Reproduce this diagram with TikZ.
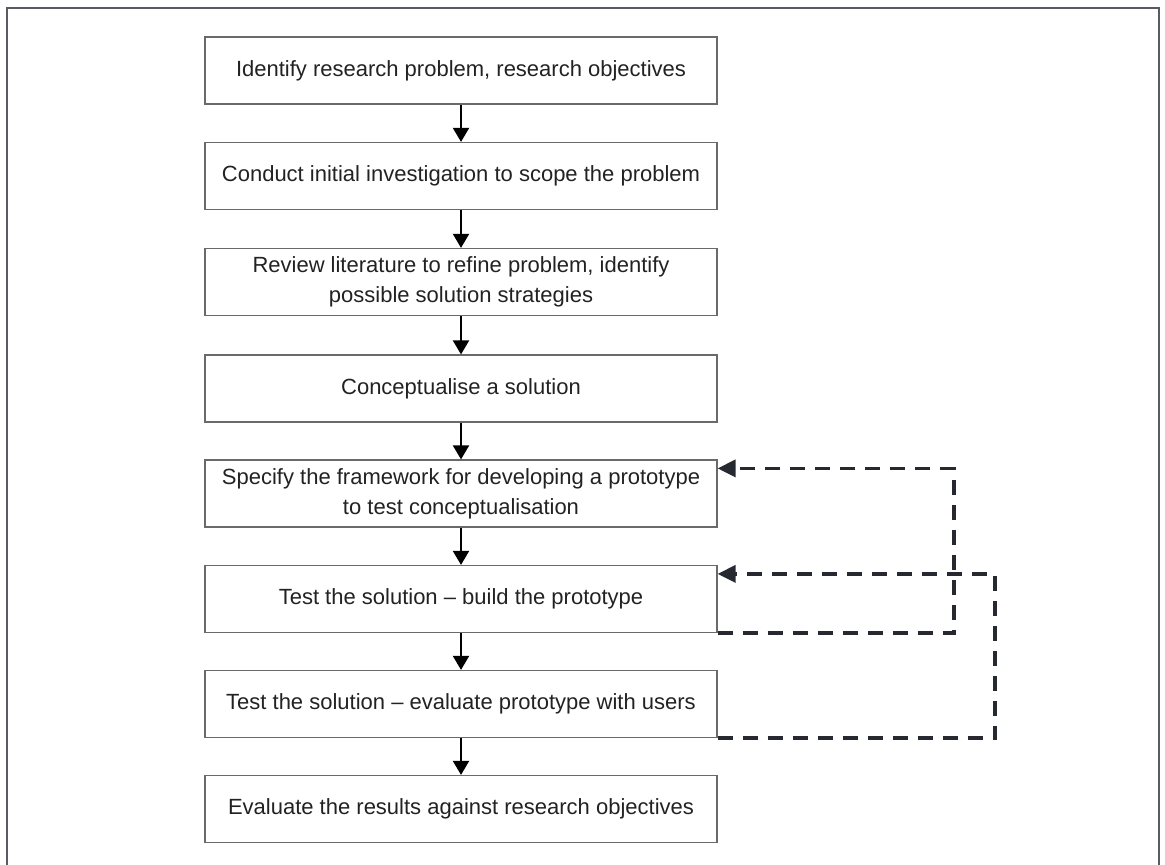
\documentclass[tikz,border=0pt]{standalone}
\usepackage{fontspec}
\setmainfont{Liberation Sans}
\usetikzlibrary{arrows.meta}
\definecolor{boxgray}{HTML}{6A6A6A}
\definecolor{framegray}{HTML}{5A5A62}
\definecolor{textdark}{HTML}{222222}
\definecolor{loopdark}{HTML}{262A30}
\begin{document}
\begin{tikzpicture}[x=0.5pt,y={(0pt,-0.5pt)},
  stepbox/.style={draw=boxgray, line width=0.6pt, minimum width=256pt,
    minimum height=33.5pt, align=center, text=textdark, inner sep=0pt,
    font=\fontsize{11}{15}\selectfont},
  flow/.style={-{Triangle[width=8pt,length=7pt]}, line width=1pt, black},
  loopback/.style={-{Triangle[width=8.5pt,length=9pt,fill=loopdark]}, line width=1.8pt,
    dash pattern=on 7.5pt off 5pt, draw=loopdark}
]
\useasboundingbox (0,0) rectangle (1165,865);
% outer frame, open at the bottom
\draw[line width=1pt, framegray] (7,865) -- (7,8) -- (1159,8) -- (1159,865);

% process steps
\node[stepbox] (b1) at (461,70.5) {Identify research problem, research objectives};
\node[stepbox] (b2) at (461,176) {Conduct initial investigation to scope the problem};
\node[stepbox] (b3) at (461,282) {Review literature to refine problem, identify\\possible solution strategies};
\node[stepbox] (b4) at (461,388.5) {Conceptualise a solution};
\node[stepbox] (b5) at (461,493.5) {Specify the framework for developing a prototype\\to test conceptualisation};
\node[stepbox] (b6) at (461,599) {Test the solution -- build the prototype};
\node[stepbox] (b7) at (461,704) {Test the solution -- evaluate prototype with users};
\node[stepbox] (b8) at (461,809) {Evaluate the results against research objectives};

% main sequence
\foreach \i/\j in {1/2,2/3,3/4,4/5,5/6,6/7,7/8}
  \draw[flow] (b\i.south) -- (b\j.north);

% feedback loops
\coordinate (in5) at ([yshift=-4.5pt]b5.north east);
\coordinate (in6) at ([yshift=-4.5pt]b6.north east);
\coordinate (r1) at (954,0);
\coordinate (r2) at (995,0);
\draw[loopback] (b6.south east) -- (b6.south east -| r1) -- (r1 |- in5) -- (in5);
\draw[loopback] (b7.south east) -- (b7.south east -| r2) -- (r2 |- in6) -- (in6);
\end{tikzpicture}
\end{document}
